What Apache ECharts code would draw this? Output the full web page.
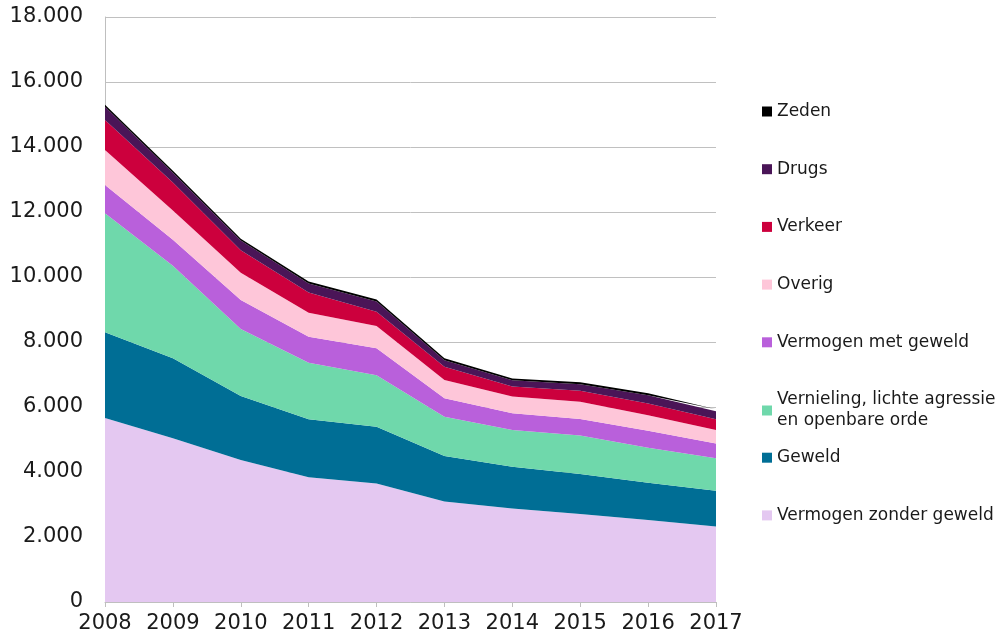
<!DOCTYPE html>
<html>
<head>
<meta charset="utf-8">
<script src="https://cdn.jsdelivr.net/npm/echarts@6/dist/echarts.min.js"></script>
<style>
  html, body { margin: 0; padding: 0; background: #fff; }
  #chart { width: 1005px; height: 643px; }
</style>
</head>
<body>
<div id="chart"></div>
<script>
// jaren
const years = ['2008', '2009', '2010', '2011', '2012', '2013', '2014', '2015', '2016', '2017'];

// aantallen per delictgroep (gestapeld, van onder naar boven)
const vermogenZonderGeweld = [5660, 5040, 4370, 3840, 3650, 3090, 2880, 2710, 2520, 2320];
const geweld = [2640, 2460, 1970, 1780, 1740, 1400, 1280, 1230, 1150, 1100];
const vernieling = [3660, 2850, 2060, 1740, 1590, 1210, 1130, 1180, 1080, 1000];
const vermogenMetGeweld = [870, 800, 890, 800, 830, 570, 520, 510, 520, 460];
const overig = [1080, 900, 840, 740, 680, 560, 510, 530, 480, 410];
const verkeer = [920, 860, 690, 620, 440, 410, 310, 340, 360, 330];
const drugs = [410, 300, 300, 280, 320, 200, 190, 200, 250, 250];
const zeden = [60, 60, 60, 60, 60, 60, 60, 60, 60, 60];

const seriesDefs = [
    {name: 'Vermogen zonder geweld', data: vermogenZonderGeweld, color: '#e4c8f1'},
    {name: 'Geweld', data: geweld, color: '#006e95'},
    {name: 'Vernieling, lichte agressie\nen openbare orde', data: vernieling, color: '#6fd8ab'},
    {name: 'Vermogen met geweld', data: vermogenMetGeweld, color: '#b960db'},
    {name: 'Overig', data: overig, color: '#fec6d9'},
    {name: 'Verkeer', data: verkeer, color: '#cc003d'},
    {name: 'Drugs', data: drugs, color: '#4a1557'},
    {name: 'Zeden', data: zeden, color: '#000000'}
];

// legenda: van boven (Zeden) naar onder
const legendOrder = seriesDefs.slice().reverse();

const chart = echarts.init(document.getElementById('chart'));

const legends = legendOrder.map(function (s, i) {
    const center = 111.5 + i * 57.7;
    const twoLines = s.name.indexOf('\n') >= 0;
    return {
        data: [s.name],
        orient: 'vertical',
        left: 762,
        top: center - 10.5,
        padding: 0,
        icon: 'rect',
        itemWidth: 10,
        itemHeight: 10,
        selectedMode: false,
        textStyle: {
            fontFamily: 'DejaVu Sans',
            fontSize: 17,
            lineHeight: 21,
            color: '#1a1a1a'
        }
    };
});

const option = {
    animation: false,
    color: seriesDefs.map(s => s.color),
    grid: {
        left: 105,
        right: 289,
        top: 17,
        bottom: 41,
        containLabel: false
    },
    legend: legends,
    xAxis: {
        type: 'category',
        data: years,
        boundaryGap: false,
        axisLine: {lineStyle: {color: '#bfbfbf', width: 1}},
        axisTick: {show: true, interval: 0, length: 5, lineStyle: {color: '#bfbfbf'}},
        axisLabel: {
            interval: 0,
            fontFamily: 'DejaVu Sans',
            fontSize: 21,
            color: '#1a1a1a',
            margin: 11
        },
        splitLine: {show: false}
    },
    yAxis: {
        type: 'value',
        min: 0,
        max: 18000,
        interval: 2000,
        axisLine: {show: true, lineStyle: {color: '#bfbfbf', width: 1}},
        axisTick: {show: false},
        axisLabel: {
            fontFamily: 'DejaVu Sans',
            fontSize: 21,
            color: '#1a1a1a',
            margin: 22,
            formatter: function (v) {
                return String(v).replace(/\B(?=(\d{3})+(?!\d))/g, '.');
            }
        },
        splitLine: {lineStyle: {color: '#c0c0c0', width: 1}}
    },
    series: seriesDefs.map(function (s) {
        return {
            name: s.name,
            type: 'line',
            stack: 'totaal',
            data: s.data,
            symbol: 'none',
            showSymbol: false,
            lineStyle: {width: 0},
            areaStyle: {color: s.color, opacity: 1},
            itemStyle: {color: s.color},
            emphasis: {disabled: true}
        };
    })
};

chart.setOption(option);
</script>
</body>
</html>
